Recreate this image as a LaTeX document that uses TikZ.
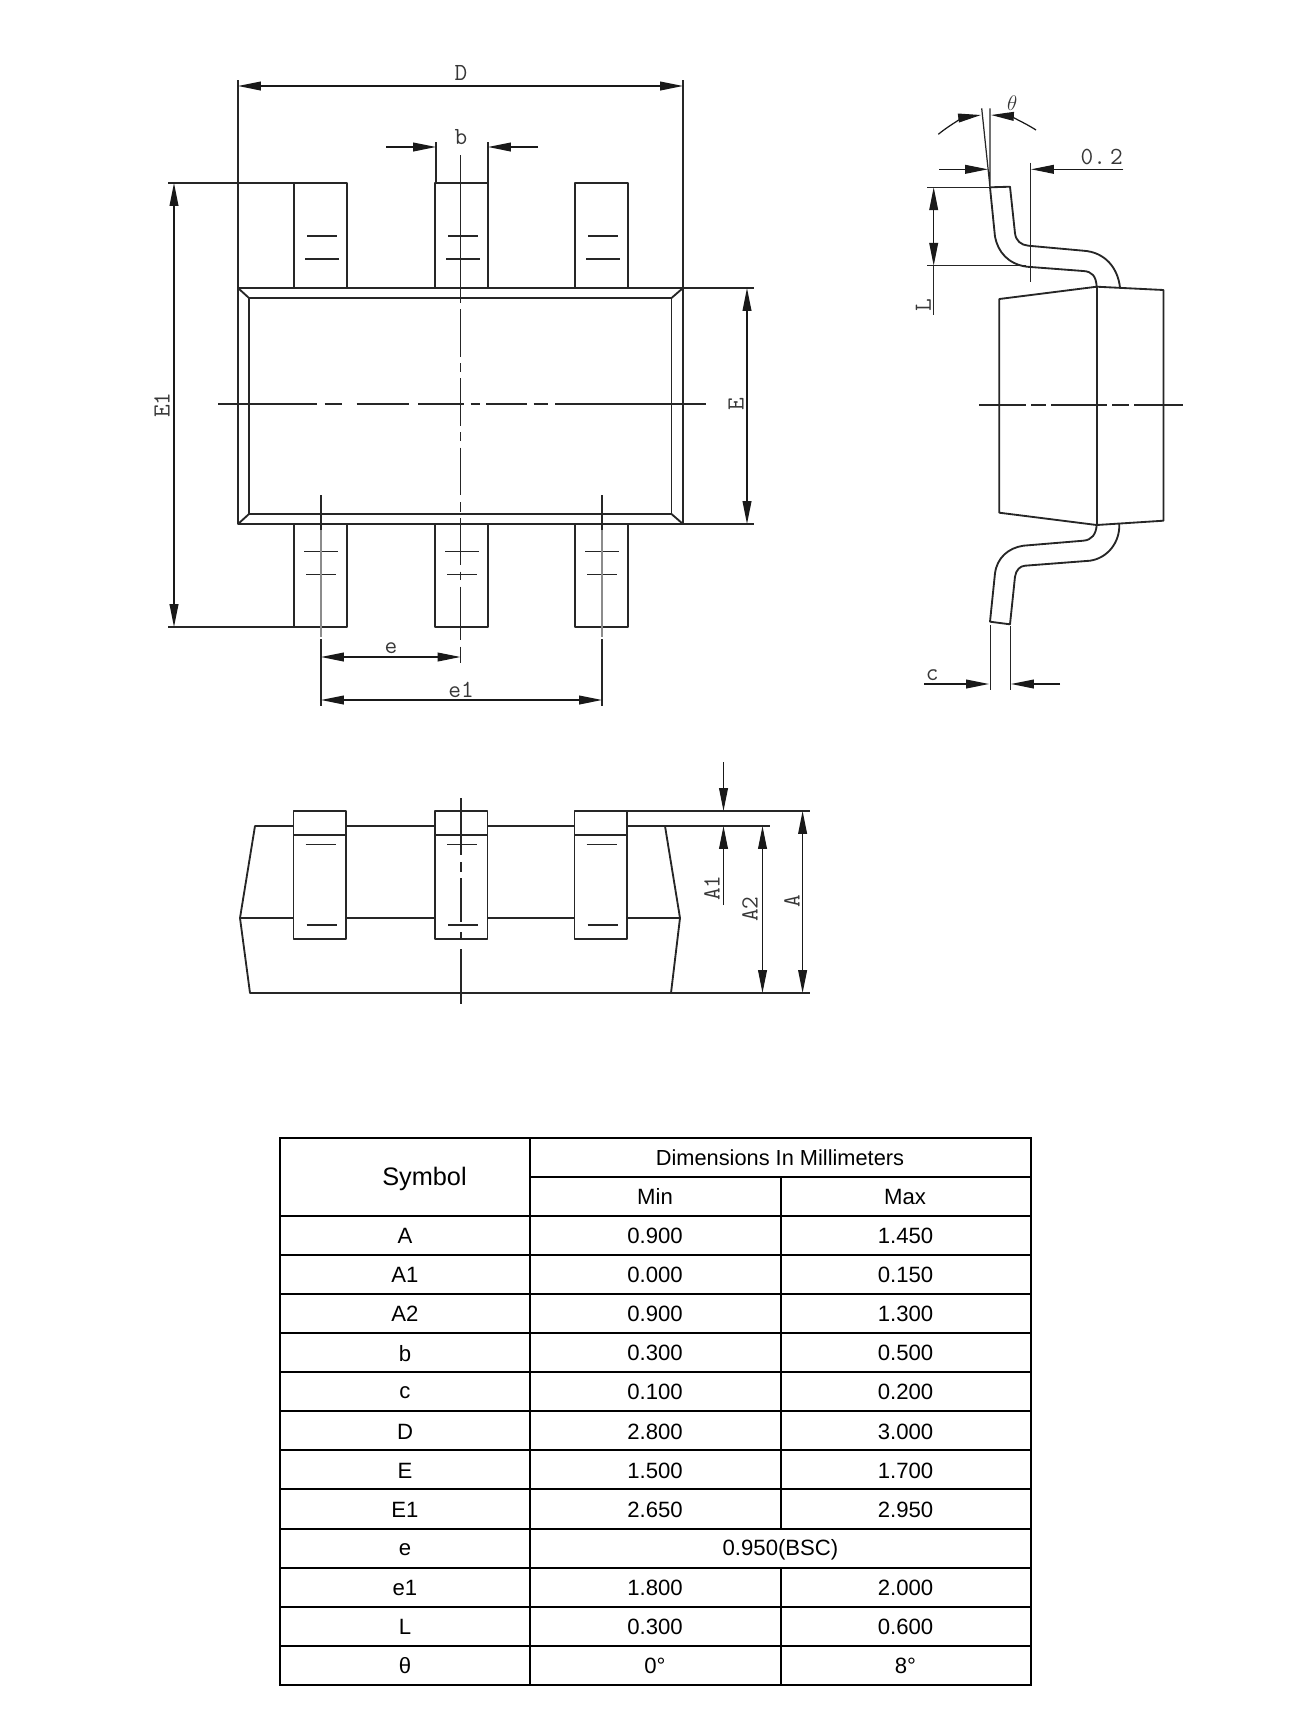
\documentclass[tikz,border=0pt]{standalone}
\usepackage{fontspec}
\setmainfont{Liberation Sans}
\usetikzlibrary{arrows.meta}
\tikzset{
  part/.style={line width=1.05pt,line join=round,black!85},
  thinline/.style={line width=.7pt,black!85},
  centerline/.style={line width=.7pt,black!85},
  dim/.style={line width=.7pt,black!90,{Triangle[length=13pt,width=5pt]}-{Triangle[length=13pt,width=5pt]}},
  dimin/.style={line width=.7pt,black!90,-{Triangle[length=13pt,width=5pt]}},
  dimlabel/.style={font=\ttfamily\fontsize{14}{14}\selectfont,text=black!78,inner sep=0pt},
  cell/.style={font=\fontsize{12.6}{14}\selectfont,inner sep=0pt},
  grid/.style={line width=1.15pt}
}
\begin{document}
\begin{tikzpicture}[x=.02cm,y=-.02cm]
\useasboundingbox (0,0) rectangle (1295,1722);

%top view
\foreach \x in {294,435,575} {
  \draw[part] (\x,288) -- (\x,183) -- ({\x+53},183) -- ({\x+53},288);
  \draw[part] (\x,524) -- (\x,627) -- ({\x+53},627) -- ({\x+53},524);
  \draw[thinline] ({\x+13},236) -- ({\x+43},236) ({\x+11},259) -- ({\x+45},259);
  \draw[thinline] ({\x+10},551.7) -- ({\x+44},551.7) ({\x+12},574.7) -- ({\x+42},574.7);
}
\draw[part] (238,288) rectangle (683,524);
\draw[part] (249,298) rectangle (671.5,514);
\draw[part] (238,288) -- (249,298) (683,288) -- (671.5,298) (238,524) -- (249,514) (683,524) -- (671.5,514);

\foreach \a/\b in {218/316.5,324.7/342.3,356.6/408.7,418/463.5,470.7/480,486/526.7,533.7/548,555.4/706}
  \draw[centerline] (\a,404) -- (\b,404);
\foreach \a/\b in {155/303,309.3/357,363/372,378/425.7,432/441,447.7/494.7,502/512,518/565,571.7/580,586.7/640,646.7/663}
  \draw[centerline] (460.5,\a) -- (460.5,\b);
\draw[centerline] (321,495) -- (321,530) (321,639) -- (321,706) (602,495) -- (602,530) (602,639) -- (602,706);
\draw[centerline,black!45] (321,530) -- (321,636.7) (602,530) -- (602,636.7);

%dimensions of top view
\draw[thinline] (238,80) -- (238,288) (683,80) -- (683,288);
\draw[dim] (238,86) -- (683,86);
\node[dimlabel] (labD) at (461,73) {D};
\draw[thinline] (436,142) -- (436,183) (488,142) -- (488,183);
\draw[dimin] (386,147) -- (436,147);
\draw[dimin] (538,147) -- (488,147);
\node[dimlabel] (labb) at (461,137) {b};
\draw[thinline] (168,183) -- (294,183) (168,627) -- (294,627);
\draw[dim] (174,183) -- (174,627);
\node[dimlabel,rotate=90] (labEone) at (162,405) {E1};
\draw[thinline] (683,288) -- (754,288) (683,524) -- (754,524);
\draw[dim] (747,288) -- (747,524);
\node[dimlabel,rotate=90] (labE) at (736,404) {E};
\draw[dim] (321,657) -- (460.5,657);
\node[dimlabel] (labe) at (391,648) {e};
\draw[dim] (321,700) -- (602,700);
\node[dimlabel] (labeone) at (461,690) {e1};

%side view
\draw[part] (999.3,512.7) -- (999.3,299) -- (1096.7,286.7) -- (1163.5,290) -- (1163.5,520.7) -- (1096.7,525) -- cycle;
\draw[part] (1096.7,286.7) -- (1096.7,525);
\draw[part] (1096.7,286.7) .. controls (1096,276) and (1092,271.5) .. (1083.3,271) -- (1026.7,266.7)
  .. controls (1008,264) and (998,252) .. (995,236.7) -- (990,187.3) -- (1010,186.7) -- (1015,233.3)
  .. controls (1016,241) and (1021,245) .. (1028.3,245.7) -- (1083.3,250.7)
  .. controls (1105,252) and (1118,268) .. (1120,287.8);
\draw[part] (1096.7,525) .. controls (1096,534) and (1092,540) .. (1083.3,540.7) -- (1023.3,545.7)
  .. controls (1008,548) and (997,558) .. (995,573.3) -- (990,621.7) -- (1010,624.3) -- (1015,576.7)
  .. controls (1016,570) and (1020,566) .. (1025,565.7) -- (1090,560.7)
  .. controls (1108,558) and (1120,542) .. (1119.3,524);
\foreach \a/\b in {979.3/1026,1031/1046,1051/1106.7,1112.3/1129,1134/1182.7}
  \draw[centerline] (\a,405) -- (\b,405);

%dimensions of side view
\draw[thinline] (981.7,108.3) -- (990,187.3) (990,108.3) -- (990,187.3);
\draw[dimin] (938.3,134.3) .. controls (952,123) and (966,117) .. (981,115);
\draw[dimin] (1036,130) .. controls (1022,121) and (1008,116) .. (991,115);
\node[dimlabel,font=\fontsize{13}{14}\selectfont] (labtheta) at (1012.3,103) {$\theta$};
\draw[dimin] (939.3,169.3) -- (988,169.3);
\draw[dimin] (1123.3,169.3) -- (1031,169.3);
\draw[thinline] (1030.7,162.7) -- (1030.7,281.7);
\node[dimlabel] (labgap) at (1101.7,157) {0.\,2};
\draw[thinline] (927.3,187.3) -- (990,187.3) (927.3,265.7) -- (1026,265.7);
\draw[dim] (933.7,187.3) -- (933.7,265.7);
\draw[thinline] (933.7,265.7) -- (933.7,315);
\node[dimlabel,rotate=90] (labL) at (923.3,305) {L};
\draw[thinline] (990.3,625) -- (990.3,690) (1010.3,626) -- (1010.3,690);
\draw[dimin] (924,684) -- (989,684);
\draw[dimin] (1060,684) -- (1011,684);
\node[dimlabel] (labc) at (932.3,675) {c};

%bottom view
\draw[part] (255,826) -- (665,826) -- (680,918) -- (671,993) -- (250,993) -- (240,918) -- cycle;
\draw[part] (240,918) -- (680,918);
\foreach \x in {293.5,435,574.5} {
  \draw[part,fill=white] (\x,811) rectangle ({\x+52.5},939);
  \draw[part] (\x,835) -- ({\x+52.5},835);
  \draw[thinline] ({\x+12},844.7) -- ({\x+42},844.7) ({\x+13},925) -- ({\x+43},925);
}
\foreach \a/\b in {798/855,862/872,878/922,932/939,949/1004}
  \draw[centerline] (461,\a) -- (461,\b);

%dimensions of bottom view
\draw[thinline] (627,811) -- (810,811) (665,826) -- (770,826) (671,993) -- (810,993);
\draw[dimin] (723.5,762) -- (723.5,811);
\draw[dimin] (723.5,905) -- (723.5,826);
\node[dimlabel,rotate=90] (labAone) at (712,888) {A1};
\draw[dim] (762.5,826) -- (762.5,993);
\node[dimlabel,rotate=90] (labAtwo) at (750,909) {A2};
\draw[dim] (802.6,811) -- (802.6,993);
\node[dimlabel,rotate=90] (labA) at (792,901.5) {A};

%table
\draw[grid] (280,1138) rectangle (1031,1684.7);
\foreach \r in {2,...,13}
  \draw[grid] (280,{1138+39.05*\r}) -- (1031,{1138+39.05*\r});
\draw[grid] (530,1177.05) -- (1031,1177.05);
\draw[grid] (530,1138) -- (530,1684.7);
\draw[grid] (781,1177.05) -- (781,{1138+39.05*10});
\draw[grid] (781,{1138+39.05*11}) -- (781,1684.7);
\node[cell,font=\fontsize{14.4}{16}\selectfont] (symbol) at (424.5,1179) {Symbol};
\node[cell,font=\fontsize{12.4}{14}\selectfont] (dims) at (780,1157.5) {Dimensions In Millimeters};
\node[cell] (minhead) at (655,1196.5) {Min};
\node[cell] (maxhead) at (905,1196.5) {Max};
\foreach \r/\s/\lo/\hi in {2/A/0.900/1.450,3/A1/0.000/0.150,4/A2/0.900/1.300,5/b/0.300/0.500,6/c/0.100/0.200,7/D/2.800/3.000,8/E/1.500/1.700,9/E1/2.650/2.950,11/e1/1.800/2.000,12/L/0.300/0.600,13/θ/0°/8°} {
  \node[cell] (sym\r) at (405,{1138+39.05*(\r+.5)+.5}) {\s};
  \node[cell] (lo\r) at (655,{1138+39.05*(\r+.5)+.5}) {\lo};
  \node[cell] (hi\r) at (905.5,{1138+39.05*(\r+.5)+.5}) {\hi};
}
\node[cell] (sym10) at (405,{1138+39.05*10.5+1.5}) {e};
\node[cell] (bsc) at (780.5,{1138+39.05*10.5+1.5}) {0.950(BSC)};
\end{tikzpicture}
\end{document}
